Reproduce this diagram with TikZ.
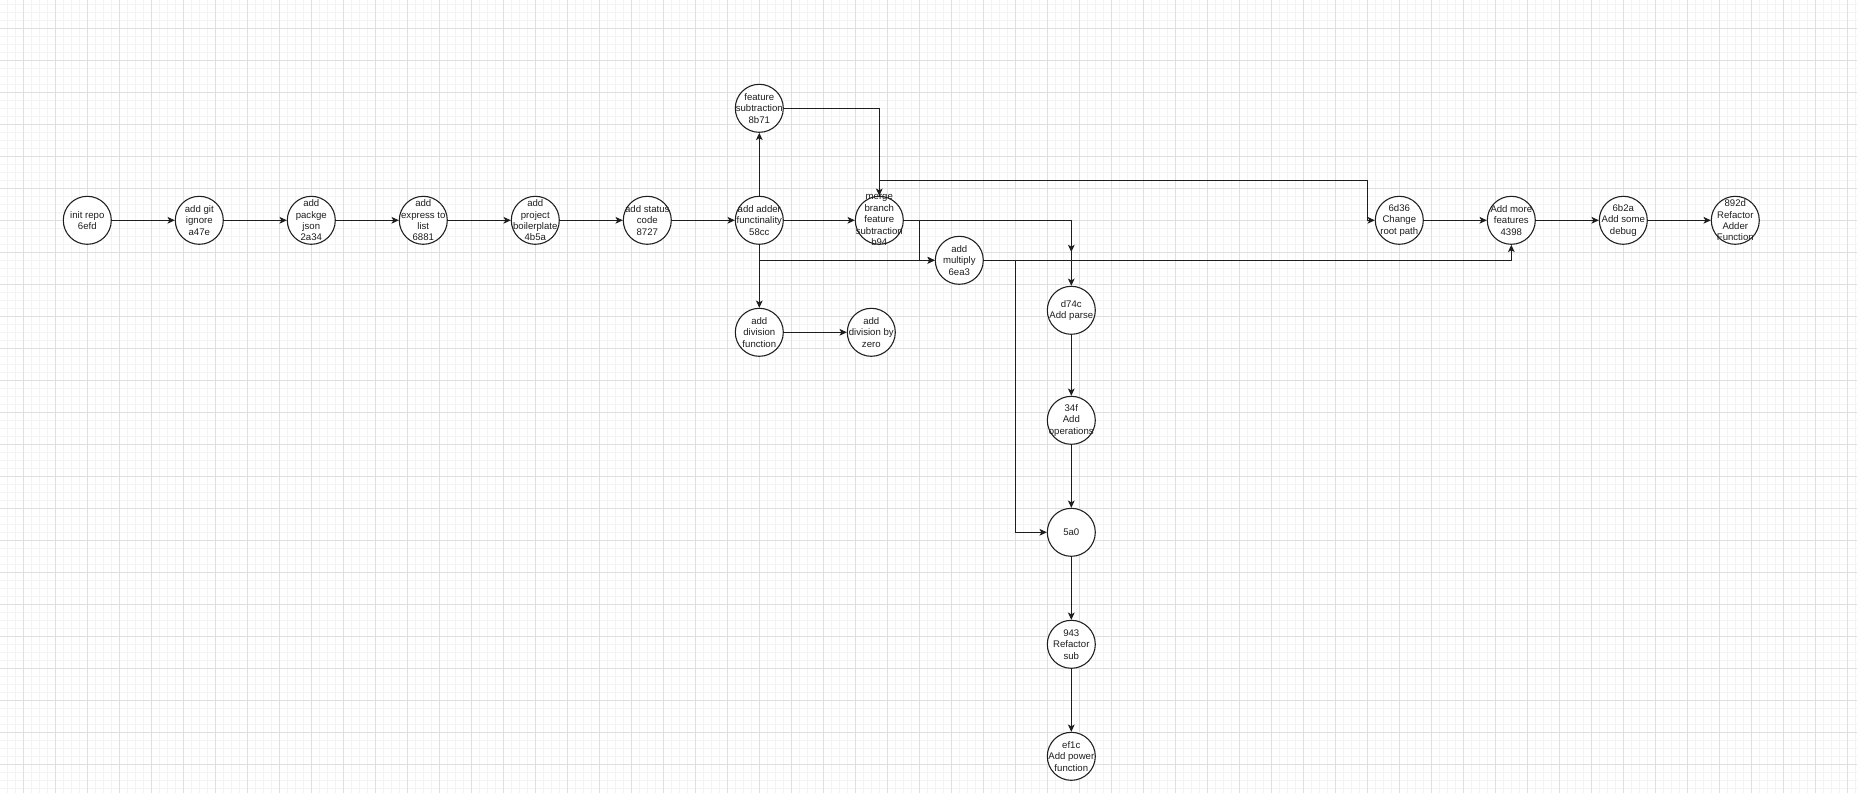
\documentclass[tikz,border=0pt]{standalone}
\usepackage{fontspec}
\setmainfont{Liberation Sans}
\usetikzlibrary{arrows.meta}
\definecolor{gridminor}{HTML}{F3F3F3}
\definecolor{gridmajor}{HTML}{DFDFDF}
\definecolor{ink}{HTML}{1E1E1E}
\begin{document}
\begin{tikzpicture}[x=0.75pt, y=-0.75pt,
  commit/.style={circle, draw=ink, line width=0.8pt, fill=white,
                 minimum size=36pt, inner sep=0pt},
  lbl/.style={align=center, inner sep=0pt, text=ink,
              font=\fontsize{7.2pt}{8.6pt}\selectfont},
  link/.style={draw=ink, line width=0.75pt,
               -{Stealth[length=5.4pt, width=5pt, inset=1.3pt]}},
  plain/.style={draw=ink, line width=0.75pt}]

% page and background grid
\useasboundingbox (0,0) rectangle (1857,793);
\fill[white] (0,0) rectangle (1857,793);
\foreach \x in {7.3,15.3,...,1857} \draw[gridminor, line width=0.6pt] (\x,0) -- (\x,793);
\foreach \y in {4.3,12.3,...,793} \draw[gridminor, line width=0.6pt] (0,\y) -- (1857,\y);
\foreach \x in {23.3,55.3,...,1857} \draw[gridmajor, line width=0.75pt] (\x,0) -- (\x,793);
\foreach \y in {28.3,60.3,...,793} \draw[gridmajor, line width=0.75pt] (0,\y) -- (1857,\y);

% commits on the main line
\node[commit, label={[lbl]center:init repo\\6efd}] (c6efd) at (87.3,220.3) {};
\node[commit, label={[lbl]center:add git\\ignore\\a47e}] (ca47e) at (199.3,220.3) {};
\node[commit, label={[lbl]center:add\\packge\\json\\2a34}] (c2a34) at (311.3,220.3) {};
\node[commit, label={[lbl]center:add\\express to\\list\\6881}] (c6881) at (423.3,220.3) {};
\node[commit, label={[lbl]center:add\\project\\boilerplate\\4b5a}] (c4b5a) at (535.3,220.3) {};
\node[commit, label={[lbl]center:add status\\code\\8727}] (c8727) at (647.3,220.3) {};
\node[commit, label={[lbl]center:add adder\\functinality\\58cc}] (c58cc) at (759.3,220.3) {};

% side branches
\node[commit, label={[lbl]center:feature\\subtraction\\8b71}] (c8b71) at (759.3,108.3) {};
\node[commit, label={[lbl]center:merge\\branch\\feature\\subtraction\\b94}] (cb94) at (879.3,220.3) {};
\node[commit, label={[lbl]center:add\\multiply\\6ea3}] (c6ea3) at (959.3,260.3) {};
\node[commit, label={[lbl]center:add\\division\\function}] (cdiv) at (759.3,332.3) {};
\node[commit, label={[lbl]center:add\\division by\\zero}] (czero) at (871.3,332.3) {};

% vertical chain
\node[commit, label={[lbl]center:d74c\\Add parse}] (cd74c) at (1071.3,310.3) {};
\node[commit, label={[lbl]center:34f\\Add\\operations}] (c34f) at (1071.3,420.3) {};
\node[commit, label={[lbl]center:5a0}] (c5a0) at (1071.3,532.3) {};
\node[commit, label={[lbl]center:943\\Refactor\\sub}] (c943) at (1071.3,644.3) {};
\node[commit, label={[lbl]center:ef1c\\Add power\\function}] (cef1c) at (1071.3,756.3) {};

% right-hand line
\node[commit, label={[lbl]center:6d36\\Change\\root path}] (c6d36) at (1399.3,220.3) {};
\node[commit, label={[lbl]center:Add more\\features\\4398}] (c4398) at (1511.3,220.3) {};
\node[commit, label={[lbl]center:6b2a\\Add some\\debug}] (c6b2a) at (1623.3,220.3) {};
\node[commit, label={[lbl]center:892d\\Refactor\\Adder\\Function}] (c892d) at (1735.3,220.3) {};

% bend points
\coordinate (mergeUp)   at (879.3,180.3);
\coordinate (rootBend)  at (1367.3,180.3);
\coordinate (mulBend)   at (919.3,220.3);
\coordinate (powBend)   at (1015.3,260.3);
\coordinate (parseTip)  at (1071.3,252);

% main line
\path[link] (c6efd) -- (ca47e);
\path[link] (ca47e) -- (c2a34);
\path[link] (c2a34) -- (c6881);
\path[link] (c6881) -- (c4b5a);
\path[link] (c4b5a) -- (c8727);
\path[link] (c8727) -- (c58cc);

% branching from 58cc
\path[link] (c58cc) -- (c8b71);
\path[link] (c58cc) -- (cb94);
\path[link] (c58cc) -- (cdiv);
\path[link] (c58cc.south) |- (c6ea3.west);
\path[link] (cdiv) -- (czero);

% merge and follow-ups
\path[link] (c8b71.east) -| (cb94.north);
\path[link] (cb94.east) -- (mulBend) |- (c6ea3.west);
\path[link] (cb94.east) -| (parseTip);
\path[link] (cb94.east) -| (cd74c.north);
\path[link] (cb94.north) -- (mergeUp) -- (rootBend) |- (c6d36.west);
\path[link] (c6ea3.east) -| (c4398.south);
\path[link] (c6ea3.east) -- (powBend) |- (c5a0.west);

% vertical chain
\path[link] (cd74c) -- (c34f);
\path[link] (c34f) -- (c5a0);
\path[link] (c5a0) -- (c943);
\path[link] (c943) -- (cef1c);

% right-hand line
\path[link] (c6d36) -- (c4398);
\path[link] (c4398) -- (c6b2a);
\path[link] (c6b2a) -- (c892d);
\end{tikzpicture}
\end{document}
